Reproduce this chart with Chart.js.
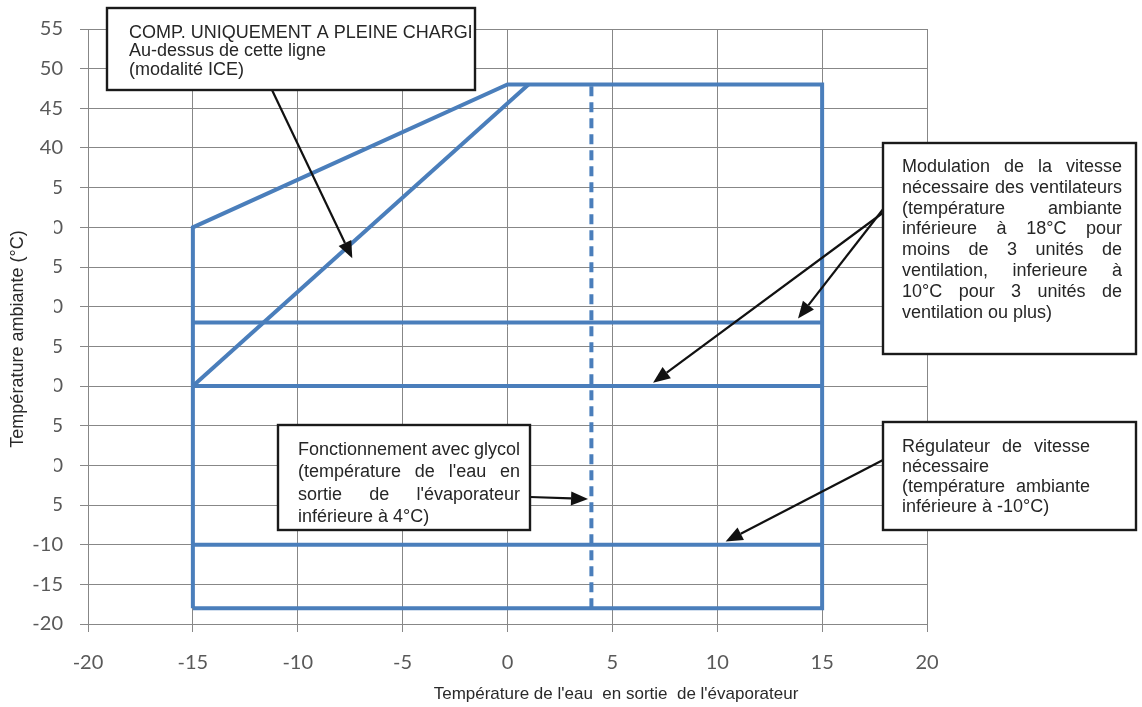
<!DOCTYPE html>
<html>
<head>
<meta charset="utf-8">
<script src="https://cdn.jsdelivr.net/npm/chart.js"></script>
<style>
  body { margin: 0; background: #fff; }
</style>
</head>
<body>
<canvas id="envChart" width="1142" height="707"></canvas>
<script>
// axis ticks
const xTicks = [-20, -15, -10, -5, 0, 5, 10, 15, 20];
const yTicks = [-20, -15, -10, -5, 0, 5, 10, 15, 20, 25, 30, 35, 40, 45, 50, 55];

// operating envelope (water temp out, ambient temp)
const envelopeX = [-15, -15, 0, 15, 15, -15];
const envelopeY = [-18, 30, 48, 48, -18, -18];
// ICE mode limit line
const iceX = [-15, 1];
const iceY = [10, 48];
// fan speed modulation lines
const fan18X = [-15, 15];
const fan18Y = [18, 18];
const fan10X = [-15, 15];
const fan10Y = [10, 10];
// speed regulator line
const regX = [-15, 15];
const regY = [-10, -10];
// glycol limit (dashed)
const glycolX = [4, 4];
const glycolY = [-18, 48];

const BLUE = '#4a7ebb';
const pts = (xs, ys) => xs.map((x, i) => ({ x: x, y: ys[i] }));

function lineSet(xs, ys, dashed) {
    return {
        data: pts(xs, ys),
        showLine: true,
        borderColor: BLUE,
        borderWidth: 4,
        borderDash: dashed ? [10, 6] : [],
        pointRadius: 0,
        fill: false,
        tension: 0
    };
}

// note boxes (pixel layout) and arrow tips (data coords)
const notes = [
    { box: [107, 8, 368, 82], clip: true, x: 129, y: 33, lh: 18.5, w: 0,
      lines: [['COMP. UNIQUEMENT A PLEINE CHARGE', 0], ['Au-dessus de cette ligne', 0], ['(modalité ICE)', 0]],
      arrows: [[272, 90, -7.4, 26.1]] },
    { box: [883, 143, 253, 211], x: 902, y: 167, lh: 20.8, w: 220,
      lines: [['Modulation de la vitesse', 1], ['nécessaire des ventilateurs', 1], ['(température ambiante', 1],
              ['inférieure à 18°C pour', 1], ['moins de 3 unités de', 1], ['ventilation, inferieure à', 1],
              ['10°C pour 3 unités de', 1], ['ventilation ou plus)', 0]],
      arrows: [[884, 208, 13.85, 18.5], [884, 212, 6.94, 10.4]] },
    { box: [278, 425, 252, 105], x: 298, y: 450, lh: 22.3, w: 222,
      lines: [['Fonctionnement avec glycol', 1], ["(température de l'eau en", 1], ["sortie de l'évaporateur", 1], ['inférieure à 4°C)', 0]],
      arrows: [[530, 497, 3.84, -4.25]] },
    { box: [883, 422, 253, 108], x: 902, y: 447, lh: 20, w: 188,
      lines: [['Régulateur de vitesse', 1], ['nécessaire', 0], ['(température ambiante', 1], ['inférieure à -10°C)', 0]],
      arrows: [[883, 460, 10.4, -9.6]] }
];

function drawLine(ctx, text, x, y, w, justify) {
    const words = text.split(' ');
    if (!justify || words.length < 2) { ctx.fillText(text, x, y); return; }
    const tw = words.reduce((s, t) => s + ctx.measureText(t).width, 0);
    const gap = (w - tw) / (words.length - 1);
    let cx = x;
    words.forEach(t => { ctx.fillText(t, cx, y); cx += ctx.measureText(t).width + gap; });
}

function arrow(ctx, x0, y0, x1, y1) {
    const a = Math.atan2(y1 - y0, x1 - x0);
    const L = 17, W = 7;
    ctx.beginPath();
    ctx.moveTo(x0, y0);
    ctx.lineTo(x1 - L * Math.cos(a), y1 - L * Math.sin(a));
    ctx.stroke();
    ctx.beginPath();
    ctx.moveTo(x1, y1);
    ctx.lineTo(x1 - L * Math.cos(a) + W * Math.sin(a), y1 - L * Math.sin(a) - W * Math.cos(a));
    ctx.lineTo(x1 - L * Math.cos(a) - W * Math.sin(a), y1 - L * Math.sin(a) + W * Math.cos(a));
    ctx.closePath();
    ctx.fill();
}

const decor = {
    id: 'decor',
    afterDraw(chart) {
        const ctx = chart.ctx;
        const sx = chart.scales.x, sy = chart.scales.y;
        ctx.save();
        // scanned original hides the left digits of the middle y labels
        ctx.fillStyle = '#fff';
        ctx.fillRect(0, 166, 54, 356);
        ctx.fillStyle = '#2a2a2a';
        ctx.font = '18px "Liberation Sans", Arial, sans-serif';
        ctx.textAlign = 'center';
        ctx.textBaseline = 'middle';
        ctx.save();
        ctx.translate(18, 339);
        ctx.rotate(-Math.PI / 2);
        ctx.fillText('Température ambiante (°C)', 0, 0);
        ctx.restore();
        ctx.font = '17px "Liberation Sans", Arial, sans-serif';
        ctx.fillText("Température de l'eau  en sortie  de l'évaporateur", 616, 694);

        notes.forEach(n => {
            const [bx, by, bw, bh] = n.box;
            ctx.strokeStyle = '#111';
            ctx.fillStyle = '#111';
            ctx.lineWidth = 2.2;
            n.arrows.forEach(a => arrow(ctx, a[0], a[1], sx.getPixelForValue(a[2]), sy.getPixelForValue(a[3])));
            ctx.fillStyle = '#fff';
            ctx.fillRect(bx, by, bw, bh);
            ctx.save();
            if (n.clip) { ctx.beginPath(); ctx.rect(bx, by, bw - 4, bh); ctx.clip(); }
            ctx.fillStyle = '#262626';
            ctx.font = '18px "Liberation Sans", Arial, sans-serif';
            ctx.textAlign = 'left';
            ctx.textBaseline = 'middle';
            n.lines.forEach((l, i) => drawLine(ctx, l[0], n.x, n.y + i * n.lh, n.w, l[1]));
            ctx.restore();
            ctx.lineWidth = 2.4;
            ctx.strokeStyle = '#1a1a1a';
            ctx.strokeRect(bx, by, bw, bh);
        });
        ctx.restore();
    }
};

new Chart(document.getElementById('envChart').getContext('2d'), {
    type: 'scatter',
    data: {
        datasets: [
            lineSet(envelopeX, envelopeY),
            lineSet(iceX, iceY),
            lineSet(fan18X, fan18Y),
            lineSet(fan10X, fan10Y),
            lineSet(regX, regY),
            lineSet(glycolX, glycolY, true)
        ]
    },
    options: {
        responsive: false,
        animation: false,
        layout: { padding: { top: 24, right: 215, left: 0, bottom: 0 } },
        plugins: { legend: { display: false }, tooltip: { enabled: false } },
        scales: {
            x: {
                type: 'linear', min: -20, max: 20,
                afterBuildTicks: s => { s.ticks = xTicks.map(v => ({ value: v })); },
                afterFit: s => { s.height = 83; },
                ticks: { color: '#595959', font: { family: 'Lato', size: 20 }, padding: 19 },
                grid: { color: '#878787', tickLength: 8 },
                border: { color: '#878787' }
            },
            y: {
                type: 'linear', min: -20, max: 55,
                afterBuildTicks: s => { s.ticks = yTicks.map(v => ({ value: v })); },
                afterFit: s => { s.width = 88; },
                ticks: { color: '#595959', font: { family: 'Lato', size: 20 }, padding: 17 },
                grid: { color: '#878787', tickLength: 8 },
                border: { color: '#878787' }
            }
        }
    },
    plugins: [decor]
});
</script>
</body>
</html>
